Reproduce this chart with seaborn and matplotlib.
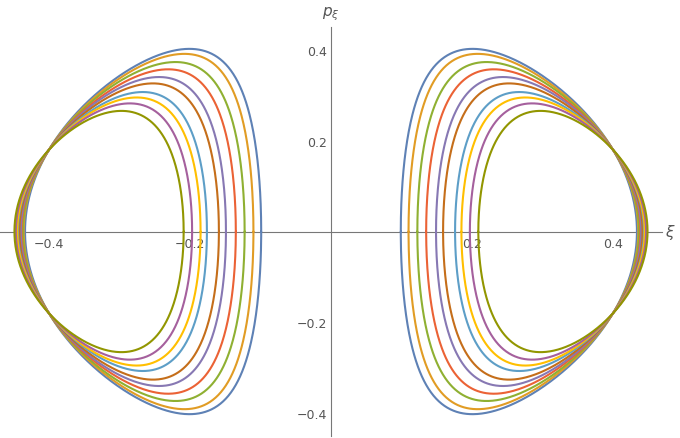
import matplotlib
matplotlib.use("Agg")
import matplotlib.pyplot as plt
import seaborn as sns
import numpy as np

# per-orbit values (outermost orbit first)
inner_turn = [0.099, 0.110, 0.1225, 0.135, 0.149, 0.159, 0.176, 0.185, 0.197, 0.209]
outer_turn = [0.434, 0.436, 0.437, 0.439, 0.440, 0.442, 0.444, 0.445, 0.447, 0.449]
peak_p = [0.402, 0.391, 0.373, 0.357, 0.340, 0.326, 0.307, 0.295, 0.282, 0.2655]
colors = ["#5E81B5", "#E19C24", "#8FB032", "#EB6235", "#8778B3",
          "#C56E1A", "#5D9EC7", "#FFBF00", "#A5609D", "#929600"]
# point where all orbits meet
cross_u, cross_p = 0.40, 0.18
x_ticks = [-0.4, -0.2, 0.2, 0.4]
y_ticks = [-0.4, -0.2, 0.2, 0.4]


def shape(u, a, b, m):
    return np.clip((u - a) * (b - u), 0, None) / u ** m


def orbit(a, b, P):
    # pick the skew so the orbit passes through the common crossing point
    uu = np.linspace(a, b, 2000)
    lo, hi = 0.0, 5.0
    for _ in range(60):
        m = (lo + hi) / 2
        val = P * np.sqrt(shape(cross_u, a, b, m) / shape(uu, a, b, m).max())
        if val > cross_p:
            lo = m
        else:
            hi = m
    t = np.linspace(0, np.pi, 400)
    u = a + (b - a) * (1 - np.cos(t)) / 2
    p = P * np.sqrt(shape(u, a, b, m) / shape(uu, a, b, m).max())
    return np.concatenate([u, u[::-1]]), np.concatenate([p, -p[::-1]])


sns.set_style("white")
fig = plt.figure(figsize=(6.8, 4.39), dpi=100)
ax = fig.add_axes([0.0, 0.0046, 0.9735, 0.9315])

for a, b, P, c in zip(inner_turn, outer_turn, peak_p, colors):
    xs, ys = orbit(a, b, P)
    for side in (1, -1):
        sns.lineplot(x=side * xs, y=ys, sort=False, estimator=None,
                     color=c, lw=1.5, ax=ax, zorder=3)

ax.set_xlim(-0.4695, 0.4695)
ax.set_ylim(-0.4464, 0.4486)
ax.set_axisbelow(True)
for s in ["top", "right"]:
    ax.spines[s].set_visible(False)
for s in ["left", "bottom"]:
    ax.spines[s].set_position(("data", 0))
    ax.spines[s].set_color("#777777")
    ax.spines[s].set_linewidth(0.8)

ax.set_xticks(x_ticks)
ax.set_yticks(y_ticks)
ax.set_xticklabels([f"{v:g}".replace("-", "\u2212") for v in x_ticks])
ax.set_yticklabels([f"{v:g}".replace("-", "\u2212") for v in y_ticks])
ax.set_xticks(np.arange(-0.45, 0.46, 0.05), minor=True)
ax.set_yticks(np.arange(-0.45, 0.46, 0.05), minor=True)
ax.tick_params(axis="x", which="both", direction="in", colors="#777777",
               labelcolor="#555555", labelsize=9, pad=4)
ax.tick_params(axis="y", which="both", direction="in", colors="#777777",
               labelcolor="#555555", labelsize=9, pad=3)
ax.tick_params(which="major", length=4, width=0.8)
ax.tick_params(which="minor", length=2.5, width=0.7)
ax.grid(False)

ax.text(0.4695 + 0.004, 0, r"$\xi$", fontsize=11, color="#555555",
        ha="left", va="center", clip_on=False)
ax.text(0, 0.4486 + 0.012, r"$p_\xi$", fontsize=11, color="#555555",
        ha="center", va="bottom", clip_on=False)

fig.savefig("out.png", dpi=100)
